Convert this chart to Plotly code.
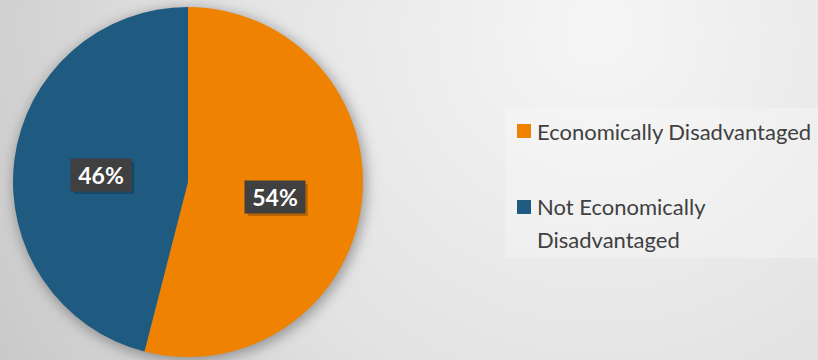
import base64, math
import plotly.graph_objects as go

# ---- data ----
labels = ["Economically Disadvantaged", "Not Economically Disadvantaged"]
legend_lines = [["Economically Disadvantaged"], ["Not Economically", "Disadvantaged"]]
values = [54, 46]
colors = ["#EF8200", "#1F5B80"]

W, H = 818, 360
CX, CY, R = 188, 182, 175  # pie centre / radius in px


def px(x):
    return x / W


def py(y):
    return 1 - y / H


# background: soft radial gradient + pie shadow
svg = f'''<svg xmlns="http://www.w3.org/2000/svg" width="{W}" height="{H}" viewBox="0 0 {W} {H}">
<defs>
<radialGradient id="g" gradientUnits="userSpaceOnUse" cx="600" cy="30" r="720">
<stop offset="0" stop-color="#f6f6f6"/><stop offset="0.55" stop-color="#e2e2e2"/><stop offset="1" stop-color="#c6c6c6"/>
</radialGradient>
<filter id="b" x="-20%" y="-20%" width="140%" height="140%"><feGaussianBlur stdDeviation="7"/></filter>
</defs>
<rect width="{W}" height="{H}" fill="url(#g)"/>
<circle cx="{CX+2}" cy="{CY+3}" r="{R+1}" fill="#000" fill-opacity="0.35" filter="url(#b)"/>
</svg>'''
src = "data:image/svg+xml;base64," + base64.b64encode(svg.encode()).decode()

fig = go.Figure(go.Pie(
    labels=labels, values=values, sort=False, direction="clockwise", rotation=0,
    marker=dict(colors=colors, line=dict(width=0)),
    textinfo="none", showlegend=False, hoverinfo="label+percent",
    domain=dict(x=[px(CX - R), px(CX + R)], y=[py(CY + R), py(CY - R)]),
))

shapes = []
annotations = []

# percentage labels (computed from data)
total = sum(values)
start = 0.0
BW, BH = 60, 32
for v in values:
    mid = (start + v / 2) / total * 2 * math.pi
    start += v
    lx = CX + 0.5 * R * math.sin(mid)
    ly = CY - 0.5 * R * math.cos(mid) + 4
    txt = f"{round(v / total * 100)}%"
    # shadow
    shapes.append(dict(type="rect", xref="paper", yref="paper",
                       x0=px(lx - BW / 2 + 3), x1=px(lx + BW / 2 + 3),
                       y0=py(ly + BH / 2 + 3), y1=py(ly - BH / 2 + 3),
                       fillcolor="rgba(0,0,0,0.22)", line=dict(width=0), layer="above"))
    annotations.append(dict(x=px(lx), y=py(ly), xref="paper", yref="paper",
                            xanchor="center", yanchor="middle",
                            width=BW, height=BH,
                            text=f"<b>{txt}</b>", showarrow=False, bgcolor="#404040",
                            borderpad=0, font=dict(family="Lato", size=23, color="white")))

# legend box
shapes.append(dict(type="rect", xref="paper", yref="paper",
                   x0=px(505), x1=px(818), y0=py(258), y1=py(108),
                   fillcolor="rgba(255,255,255,0.25)", line=dict(width=0), layer="below"))

# legend entries
item_y = [131, 207]
for lines, col, y0 in zip(legend_lines, colors, item_y):
    shapes.append(dict(type="rect", xref="paper", yref="paper",
                       x0=px(517), x1=px(531), y0=py(y0 + 7), y1=py(y0 - 7),
                       fillcolor=col, line=dict(width=0)))
    for i, ln in enumerate(lines):
        annotations.append(dict(x=px(535), y=py(y0 + i * 32), xref="paper", yref="paper",
                                xanchor="left", yanchor="middle", text=ln, showarrow=False,
                                font=dict(family="Lato", size=22, color="#404040")))

fig.update_layout(
    width=W, height=H, margin=dict(l=0, r=0, t=0, b=0),
    paper_bgcolor="#e0e0e0", plot_bgcolor="rgba(0,0,0,0)",
    images=[dict(source=src, xref="paper", yref="paper", x=0, y=1, sizex=1, sizey=1,
                 sizing="stretch", xanchor="left", yanchor="top", layer="below")],
    shapes=shapes, annotations=annotations,
)

fig.write_html("out.html")
